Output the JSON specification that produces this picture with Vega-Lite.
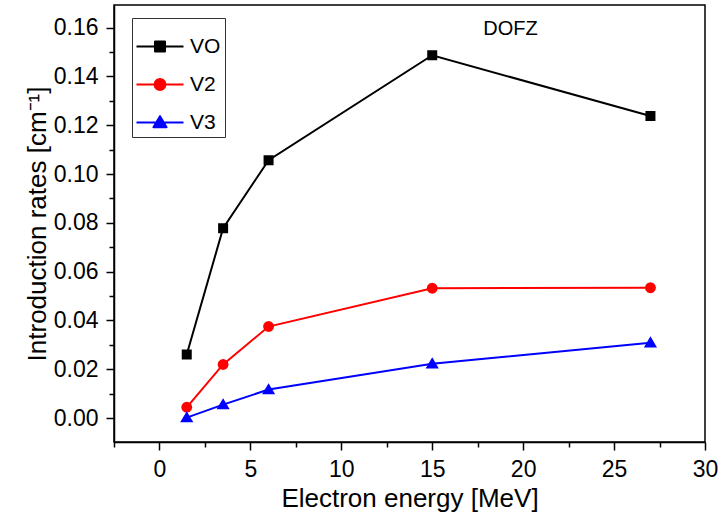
{
  "$schema": "https://vega.github.io/schema/vega-lite/v6.json",
  "width": 591,
  "height": 437,
  "autosize": {"type": "none"},
  "padding": {"left": 114, "top": 5, "right": 19, "bottom": 72},
  "background": "white",
  "config": {
    "view": {"stroke": "black", "strokeWidth": 1.5},
    "font": "Liberation Sans",
    "axis": {
      "grid": false,
      "domainColor": "black",
      "domainWidth": 1.5,
      "tickColor": "black",
      "tickWidth": 1.5,
      "labelColor": "black",
      "titleColor": "black",
      "labelFont": "Liberation Sans",
      "titleFont": "Liberation Sans",
      "labelFontSize": 23,
      "titleFontSize": 26,
      "titleFontWeight": "normal"
    },
    "legend": {
      "orient": "none",
      "legendX": 18,
      "legendY": 13,
      "strokeColor": "#333333",
      "padding": 4,
      "rowPadding": 3,
      "symbolSize": 100,
      "labelFontSize": 21,
      "labelFont": "Liberation Sans",
      "labelColor": "black"
    }
  },
  "data": {
    "values": [
      {"e": 1.5, "rate": 0.0261, "series": "VO"},
      {"e": 3.5, "rate": 0.0778, "series": "VO"},
      {"e": 6, "rate": 0.1057, "series": "VO"},
      {"e": 15, "rate": 0.1487, "series": "VO"},
      {"e": 27, "rate": 0.1238, "series": "VO"},
      {"e": 1.5, "rate": 0.0044, "series": "V2"},
      {"e": 3.5, "rate": 0.0220, "series": "V2"},
      {"e": 6, "rate": 0.0375, "series": "V2"},
      {"e": 15, "rate": 0.0532, "series": "V2"},
      {"e": 27, "rate": 0.0534, "series": "V2"},
      {"e": 1.5, "rate": 0.0002, "series": "V3"},
      {"e": 3.5, "rate": 0.0055, "series": "V3"},
      {"e": 6, "rate": 0.0117, "series": "V3"},
      {"e": 15, "rate": 0.0223, "series": "V3"},
      {"e": 27, "rate": 0.0309, "series": "V3"}
    ]
  },
  "encoding": {
    "x": {
      "field": "e",
      "type": "quantitative",
      "scale": {"domain": [-2.5, 30], "nice": false, "zero": false},
      "axis": {
        "title": "Electron energy [MeV]",
        "values": [-2.5, 0, 2.5, 5, 7.5, 10, 12.5, 15, 17.5, 20, 22.5, 25, 27.5, 30],
        "labelExpr": "datum.value % 5 === 0 ? datum.label : ''",
        "tickSize": {"condition": {"test": "datum.value % 5 === 0", "value": 8}, "value": 5},
        "labelPadding": 8,
        "titlePadding": 4,
        "labelFlush": false,
        "labelOverlap": false
      }
    },
    "y": {
      "field": "rate",
      "type": "quantitative",
      "scale": {"domain": [-0.0098, 0.1693], "nice": false, "zero": false},
      "axis": {
        "title": "Introduction rates [cm⁻¹]",
        "values": [0, 0.01, 0.02, 0.03, 0.04, 0.05, 0.06, 0.07, 0.08, 0.09, 0.1, 0.11, 0.12, 0.13, 0.14, 0.15, 0.16],
        "labelExpr": "round(datum.value * 100) % 2 === 0 ? format(datum.value, '.2f') : ''",
        "tickSize": {"condition": {"test": "round(datum.value * 100) % 2 === 0", "value": 8}, "value": 5},
        "labelPadding": 8,
        "titlePadding": 3,
        "labelFlush": false,
        "labelOverlap": false
      }
    },
    "color": {
      "field": "series",
      "type": "nominal",
      "scale": {"domain": ["VO", "V2", "V3"], "range": ["#000000", "#ff0000", "#0000ff"]},
      "legend": {
        "title": null,
        "encode": {
          "symbols": {"update": {"stroke": {"scale": "color", "field": "value"}, "strokeWidth": {"value": 2}, "strokeJoin": {"value": "round"}, "size": {"value": 2209}, "x": {"value": 24}}},
          "labels": {"update": {"x": {"value": 54}}}
        }
      }
    }
  },
  "layer": [
    {
      "mark": {"type": "line", "strokeWidth": 2}
    },
    {
      "mark": {"type": "point", "filled": true, "size": 2209, "opacity": 1},
      "encoding": {
        "shape": {
          "field": "series",
          "type": "nominal",
          "scale": {
            "domain": ["VO", "V2", "V3"],
            "range": [
              "M-1,0H1M-0.213,-0.213H0.213V0.213H-0.213Z",
              "M-1,0H1M0.234,0L0.2026,0.117L0.117,0.2026L0,0.234L-0.117,0.2026L-0.2026,0.117L-0.234,0L-0.2026,-0.117L-0.117,-0.2026L0,-0.234L0.117,-0.2026L0.2026,-0.117Z",
              "M-1,0H1M0,-0.27L0.28,0.2L-0.28,0.2Z"
            ]
          },
          "legend": {
            "title": null,
            "encode": {
              "symbols": {"update": {"stroke": {"scale": "color", "field": "value"}, "strokeWidth": {"value": 2}, "strokeJoin": {"value": "round"}, "size": {"value": 2209}, "x": {"value": 24}}},
              "labels": {"update": {"x": {"value": 54}}}
            }
          }
        }
      }
    },
    {
      "data": {"values": [{"e": 19.3, "rate": 0.1595, "label": "DOFZ"}]},
      "mark": {"type": "text", "fontSize": 20, "font": "Liberation Sans", "color": "black"},
      "encoding": {"text": {"field": "label"}, "color": {"value": "black"}}
    }
  ]
}
